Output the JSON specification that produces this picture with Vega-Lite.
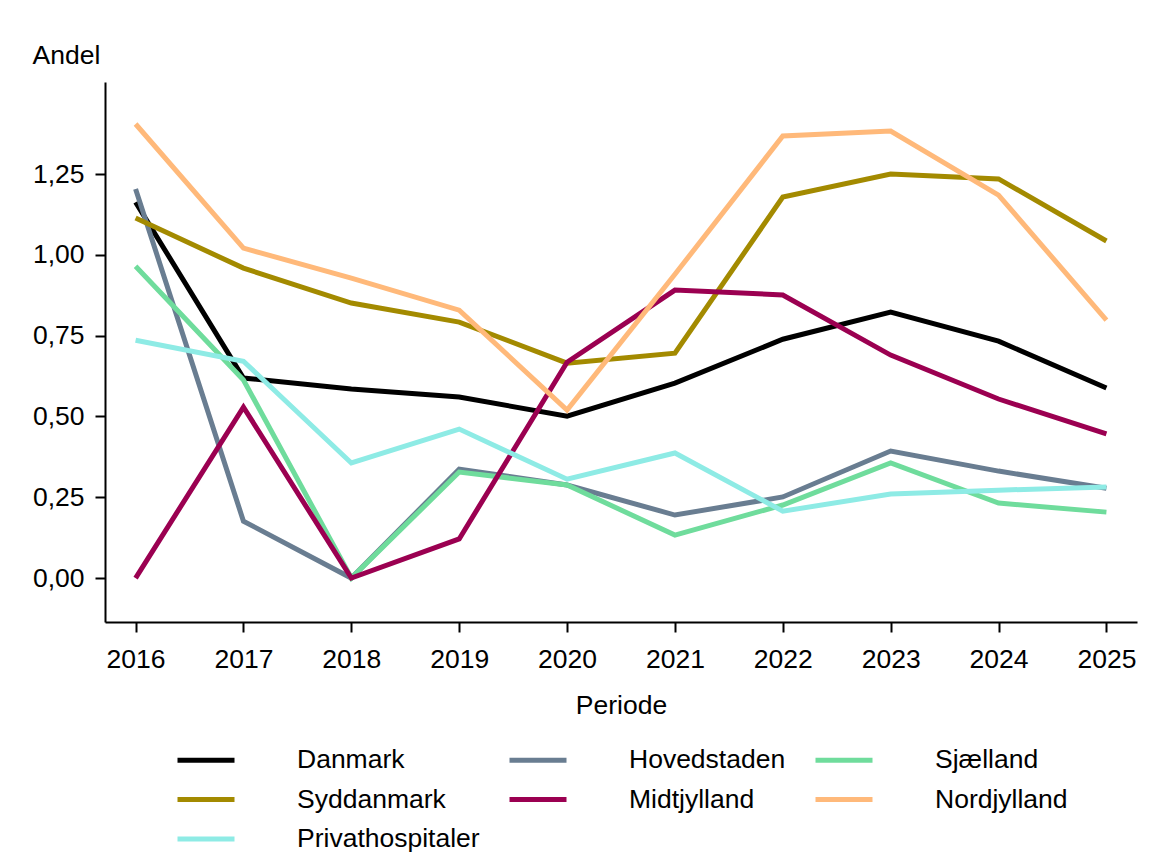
{
  "$schema": "https://vega.github.io/schema/vega-lite/v6.json",
  "width": 1032,
  "height": 540,
  "autosize": {"type": "none"},
  "padding": {"left": 105, "top": 82, "right": 17, "bottom": 241},
  "background": "white",
  "config": {
    "view": {"stroke": null},
    "font": "Liberation Sans",
    "axis": {"labelFont": "Liberation Sans", "titleFont": "Liberation Sans", "labelColor": "#000", "titleColor": "#000", "domainColor": "#000", "tickColor": "#000", "domainWidth": 2, "tickWidth": 2, "tickSize": 10, "grid": false, "labelFontSize": 26.5, "titleFontSize": 26.5, "titleFontWeight": "normal"},
    "legend": {"labelFont": "Liberation Sans", "labelFontSize": 26.5, "labelColor": "#000"}
  },
  "data": {
    "values": [
      {"Periode": 2016, "Region": "Danmark", "Andel": 1.163},
      {"Periode": 2017, "Region": "Danmark", "Andel": 0.619},
      {"Periode": 2018, "Region": "Danmark", "Andel": 0.585},
      {"Periode": 2019, "Region": "Danmark", "Andel": 0.560},
      {"Periode": 2020, "Region": "Danmark", "Andel": 0.501},
      {"Periode": 2021, "Region": "Danmark", "Andel": 0.603},
      {"Periode": 2022, "Region": "Danmark", "Andel": 0.739},
      {"Periode": 2023, "Region": "Danmark", "Andel": 0.823},
      {"Periode": 2024, "Region": "Danmark", "Andel": 0.733},
      {"Periode": 2025, "Region": "Danmark", "Andel": 0.588},
      {"Periode": 2016, "Region": "Hovedstaden", "Andel": 1.204},
      {"Periode": 2017, "Region": "Hovedstaden", "Andel": 0.176},
      {"Periode": 2018, "Region": "Hovedstaden", "Andel": 0.0},
      {"Periode": 2019, "Region": "Hovedstaden", "Andel": 0.337},
      {"Periode": 2020, "Region": "Hovedstaden", "Andel": 0.288},
      {"Periode": 2021, "Region": "Hovedstaden", "Andel": 0.195},
      {"Periode": 2022, "Region": "Hovedstaden", "Andel": 0.251},
      {"Periode": 2023, "Region": "Hovedstaden", "Andel": 0.393},
      {"Periode": 2024, "Region": "Hovedstaden", "Andel": 0.331},
      {"Periode": 2025, "Region": "Hovedstaden", "Andel": 0.278},
      {"Periode": 2016, "Region": "Sjælland", "Andel": 0.965},
      {"Periode": 2017, "Region": "Sjælland", "Andel": 0.613},
      {"Periode": 2018, "Region": "Sjælland", "Andel": 0.0},
      {"Periode": 2019, "Region": "Sjælland", "Andel": 0.328},
      {"Periode": 2020, "Region": "Sjælland", "Andel": 0.288},
      {"Periode": 2021, "Region": "Sjælland", "Andel": 0.133},
      {"Periode": 2022, "Region": "Sjælland", "Andel": 0.226},
      {"Periode": 2023, "Region": "Sjælland", "Andel": 0.356},
      {"Periode": 2024, "Region": "Sjælland", "Andel": 0.232},
      {"Periode": 2025, "Region": "Sjælland", "Andel": 0.204},
      {"Periode": 2016, "Region": "Syddanmark", "Andel": 1.114},
      {"Periode": 2017, "Region": "Syddanmark", "Andel": 0.959},
      {"Periode": 2018, "Region": "Syddanmark", "Andel": 0.851},
      {"Periode": 2019, "Region": "Syddanmark", "Andel": 0.792},
      {"Periode": 2020, "Region": "Syddanmark", "Andel": 0.665},
      {"Periode": 2021, "Region": "Syddanmark", "Andel": 0.696},
      {"Periode": 2022, "Region": "Syddanmark", "Andel": 1.179},
      {"Periode": 2023, "Region": "Syddanmark", "Andel": 1.250},
      {"Periode": 2024, "Region": "Syddanmark", "Andel": 1.235},
      {"Periode": 2025, "Region": "Syddanmark", "Andel": 1.043},
      {"Periode": 2016, "Region": "Midtjylland", "Andel": 0.0},
      {"Periode": 2017, "Region": "Midtjylland", "Andel": 0.529},
      {"Periode": 2018, "Region": "Midtjylland", "Andel": 0.0},
      {"Periode": 2019, "Region": "Midtjylland", "Andel": 0.121},
      {"Periode": 2020, "Region": "Midtjylland", "Andel": 0.668},
      {"Periode": 2021, "Region": "Midtjylland", "Andel": 0.891},
      {"Periode": 2022, "Region": "Midtjylland", "Andel": 0.876},
      {"Periode": 2023, "Region": "Midtjylland", "Andel": 0.690},
      {"Periode": 2024, "Region": "Midtjylland", "Andel": 0.554},
      {"Periode": 2025, "Region": "Midtjylland", "Andel": 0.446},
      {"Periode": 2016, "Region": "Nordjylland", "Andel": 1.405},
      {"Periode": 2017, "Region": "Nordjylland", "Andel": 1.021},
      {"Periode": 2018, "Region": "Nordjylland", "Andel": 0.928},
      {"Periode": 2019, "Region": "Nordjylland", "Andel": 0.829},
      {"Periode": 2020, "Region": "Nordjylland", "Andel": 0.520},
      {"Periode": 2021, "Region": "Nordjylland", "Andel": 0.940},
      {"Periode": 2022, "Region": "Nordjylland", "Andel": 1.368},
      {"Periode": 2023, "Region": "Nordjylland", "Andel": 1.383},
      {"Periode": 2024, "Region": "Nordjylland", "Andel": 1.185},
      {"Periode": 2025, "Region": "Nordjylland", "Andel": 0.798},
      {"Periode": 2016, "Region": "Privathospitaler", "Andel": 0.736},
      {"Periode": 2017, "Region": "Privathospitaler", "Andel": 0.671},
      {"Periode": 2018, "Region": "Privathospitaler", "Andel": 0.356},
      {"Periode": 2019, "Region": "Privathospitaler", "Andel": 0.461},
      {"Periode": 2020, "Region": "Privathospitaler", "Andel": 0.306},
      {"Periode": 2021, "Region": "Privathospitaler", "Andel": 0.387},
      {"Periode": 2022, "Region": "Privathospitaler", "Andel": 0.207},
      {"Periode": 2023, "Region": "Privathospitaler", "Andel": 0.260},
      {"Periode": 2024, "Region": "Privathospitaler", "Andel": 0.272},
      {"Periode": 2025, "Region": "Privathospitaler", "Andel": 0.282}
    ]
  },
  "mark": {"type": "line", "strokeWidth": 5, "strokeJoin": "miter", "strokeCap": "butt"},
  "encoding": {
    "x": {
      "field": "Periode", "type": "ordinal",
      "scale": {"type": "point", "padding": 0.2835},
      "axis": {"title": "Periode", "labelAngle": 0, "labelPadding": 14, "titlePadding": 20, "labelBaseline": "top"}
    },
    "y": {
      "field": "Andel", "type": "quantitative",
      "scale": {"domain": [-0.136, 1.535], "nice": false, "zero": false},
      "axis": {
        "values": [0, 0.25, 0.5, 0.75, 1, 1.25],
        "format": ".2f",
        "labelExpr": "replace(datum.label, '.', ',')",
        "labelPadding": 11,
        "title": "Andel",
        "titleAngle": 0,
        "titleAlign": "left",
        "titleBaseline": "middle",
        "titleX": -73,
        "titleY": -27
      }
    },
    "color": {
      "field": "Region", "type": "nominal",
      "scale": {
        "domain": ["Danmark", "Hovedstaden", "Sjælland", "Syddanmark", "Midtjylland", "Nordjylland", "Privathospitaler"],
        "range": ["#000000", "#697D91", "#6FDC9C", "#A38A00", "#9B0051", "#FFB97A", "#8EEBE5"]
      },
      "legend": {
        "orient": "none",
        "legendX": 70,
        "legendY": 665,
        "title": null,
        "columns": 3,
        "direction": "horizontal",
        "symbolType": "stroke",
        "symbolSize": 3249,
        "symbolStrokeWidth": 5,
        "labelOffset": 60,
        "labelLimit": 0,
        "clipHeight": 26,
        "rowPadding": 12.5,
        "columnPadding": 27,
        "padding": 0
      }
    }
  }
}
